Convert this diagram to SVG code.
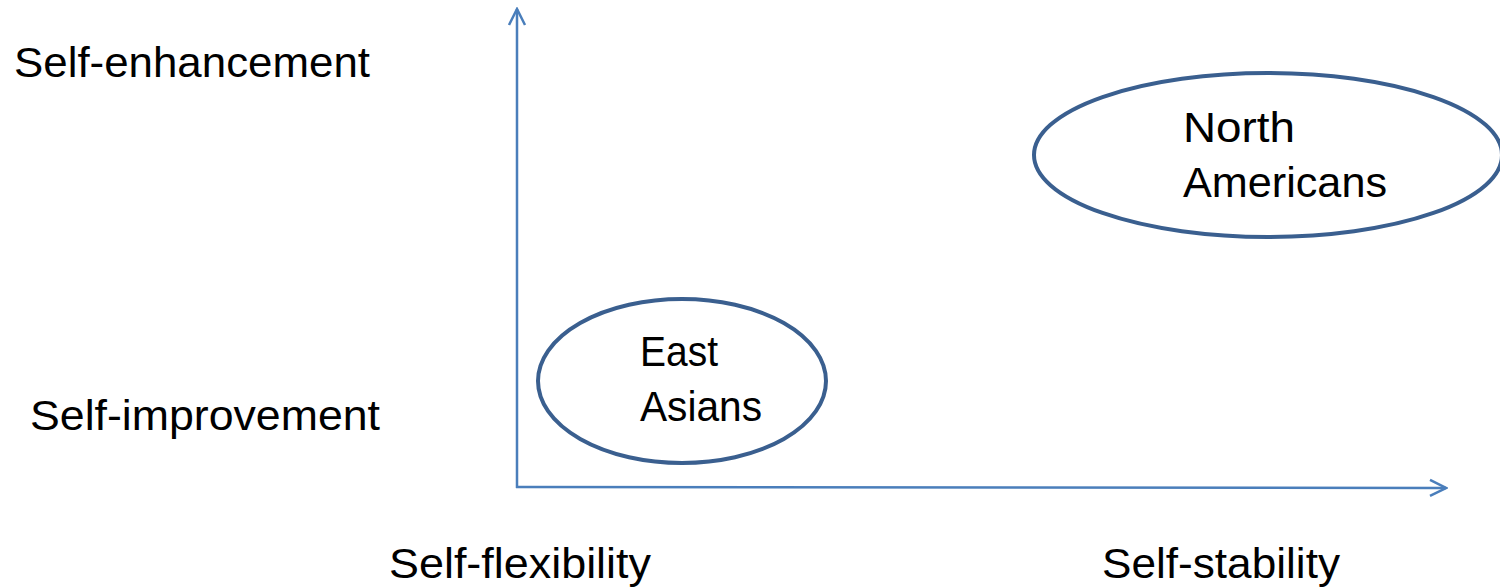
<svg xmlns="http://www.w3.org/2000/svg" width="1500" height="588" viewBox="0 0 1500 588">
<style>
text{font-family:"Liberation Sans",Arial,sans-serif;font-size:42px;fill:#000}
.ax{stroke:#4A7EBB;stroke-width:2.5;fill:none}
.ell{fill:#fff;stroke:#3A5F8F;stroke-width:4}
</style>
<defs>
<marker id="arr" viewBox="0 0 20 20" refX="18" refY="10" markerWidth="20" markerHeight="20" markerUnits="userSpaceOnUse" orient="auto">
<path d="M2,2 L18,10 L2,18" fill="none" stroke="#4A7EBB" stroke-width="2.5"/>
</marker>
</defs>
<rect width="1500" height="588" fill="#fff"/>
<g id="connectors">
<line class="ax" x1="517" y1="488" x2="517" y2="9" marker-end="url(#arr)"/>
<line class="ax" x1="516" y1="487" x2="1446" y2="488" marker-end="url(#arr)"/>
</g>
<g id="labels">
<text x="14" y="77" textLength="356" lengthAdjust="spacingAndGlyphs">Self-enhancement</text>
<text x="30" y="430" textLength="350" lengthAdjust="spacingAndGlyphs">Self-improvement</text>
<text x="389" y="578" textLength="262" lengthAdjust="spacingAndGlyphs">Self-flexibility</text>
<text x="1102" y="578" textLength="238" lengthAdjust="spacingAndGlyphs">Self-stability</text>
</g>
<g id="north-americans">
<ellipse class="ell" cx="1268" cy="155" rx="234" ry="82"/>
<text x="1183" y="142" textLength="112" lengthAdjust="spacingAndGlyphs">North</text>
<text x="1183" y="197" textLength="204" lengthAdjust="spacingAndGlyphs">Americans</text>
</g>
<g id="east-asians">
<ellipse class="ell" cx="682" cy="381" rx="144" ry="82"/>
<text x="640" y="366" textLength="78" lengthAdjust="spacingAndGlyphs">East</text>
<text x="640" y="421" textLength="122" lengthAdjust="spacingAndGlyphs">Asians</text>
</g>
</svg>
